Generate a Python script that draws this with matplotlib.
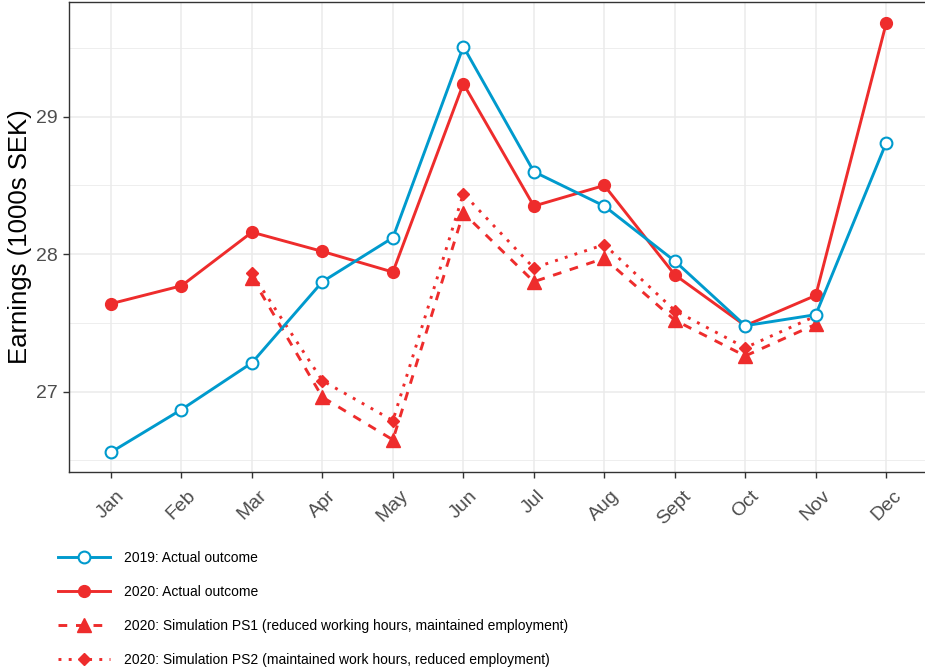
import matplotlib
matplotlib.use("Agg")
import matplotlib.pyplot as plt
from matplotlib.lines import Line2D
from matplotlib.ticker import MultipleLocator

plt.rcParams["font.family"] = ["Liberation Sans", "DejaVu Sans"]

months = ["Jan", "Feb", "Mar", "Apr", "May", "Jun", "Jul", "Aug", "Sept", "Oct", "Nov", "Dec"]
actual_2019 = [26.56, 26.87, 27.21, 27.80, 28.12, 29.51, 28.60, 28.35, 27.95, 27.48, 27.56, 28.81]
actual_2020 = [27.64, 27.77, 28.16, 28.02, 27.87, 29.24, 28.35, 28.50, 27.85, 27.48, 27.70, 29.68]
sim_months = ["Mar", "Apr", "May", "Jun", "Jul", "Aug", "Sept", "Oct", "Nov"]
sim_ps1 = [27.83, 26.96, 26.65, 28.30, 27.80, 27.97, 27.52, 27.26, 27.49]
sim_ps2 = [27.86, 27.08, 26.79, 28.44, 27.90, 28.07, 27.59, 27.32, 27.55]

labels = [
    "2019: Actual outcome",
    "2020: Actual outcome",
    "2020: Simulation PS1 (reduced working hours, maintained employment)",
    "2020: Simulation PS2 (maintained work hours, reduced employment)",
]

BLUE = "#009ACD"
RED = "#EE2C2C"
GRID = "#EBEBEB"
TXT = "#4D4D4D"

x_all = [months.index(m) + 1 for m in months]
x_sim = [months.index(m) + 1 for m in sim_months]

fig = plt.figure(figsize=(9.25, 6.69), dpi=100)
# axes runs a bit past the right edge of the picture (the original is cropped there)
ax = fig.add_axes([68.7 / 925, 1 - 472 / 669, (928.5 - 68.7) / 925, (472 - 2) / 669])

lw = 2.1
styles = [
    dict(color=BLUE, lw=lw, marker="o", ms=8.5, mfc="white", mew=1.5),
    dict(color=RED, lw=lw, marker="o", ms=8.5),
    dict(color=RED, lw=lw, marker="^", ms=10, dashes=(3, 3)),
    dict(color=RED, lw=lw, marker="D", ms=6.5, dashes=(1, 2.5)),
]

ax.plot(x_all, actual_2019, **styles[0], zorder=4)
ax.plot(x_all, actual_2020, **styles[1], zorder=3)
ax.plot(x_sim, sim_ps1, **styles[2], zorder=3)
ax.plot(x_sim, sim_ps2, **styles[3], zorder=3)

ax.set_xlim(0.4, 12.6)
ax.set_ylim(26.416, 29.834)
ax.set_xticks(x_all)
ax.set_xticklabels(months, rotation=45, ha="center")
ax.yaxis.set_major_locator(MultipleLocator(1))
ax.yaxis.set_minor_locator(MultipleLocator(0.5))
ax.grid(which="major", color=GRID, lw=1.1)
ax.grid(which="minor", axis="y", color=GRID, lw=0.6)
ax.set_axisbelow(True)
ax.tick_params(axis="both", which="major", colors="#333333", labelcolor=TXT,
               labelsize=14, length=4, width=1)
ax.tick_params(axis="y", which="minor", length=0)
ax.tick_params(axis="x", pad=7)
ax.tick_params(axis="y", pad=4)
for s in ax.spines.values():
    s.set_color("#333333")
    s.set_linewidth(1)

ax.set_ylabel("Earnings (1000s SEK)", fontsize=18.5, color="black", ha="center", va="center")
ax.yaxis.set_label_coords((20 - 68.7) / 859.8, 0.5)

handles = [Line2D([0], [0], **st) for st in styles]
fs = 10
fig.legend(handles, labels, loc="upper left", bbox_to_anchor=(58 / 925, 1 - 551 / 669),
           frameon=False, handlelength=37.4 / fs, handletextpad=10 / fs,
           labelspacing=1.43, borderpad=0, borderaxespad=0, numpoints=1,
           prop={"family": "Liberation Sans", "size": fs})

fig.savefig("out.png", dpi=100)
